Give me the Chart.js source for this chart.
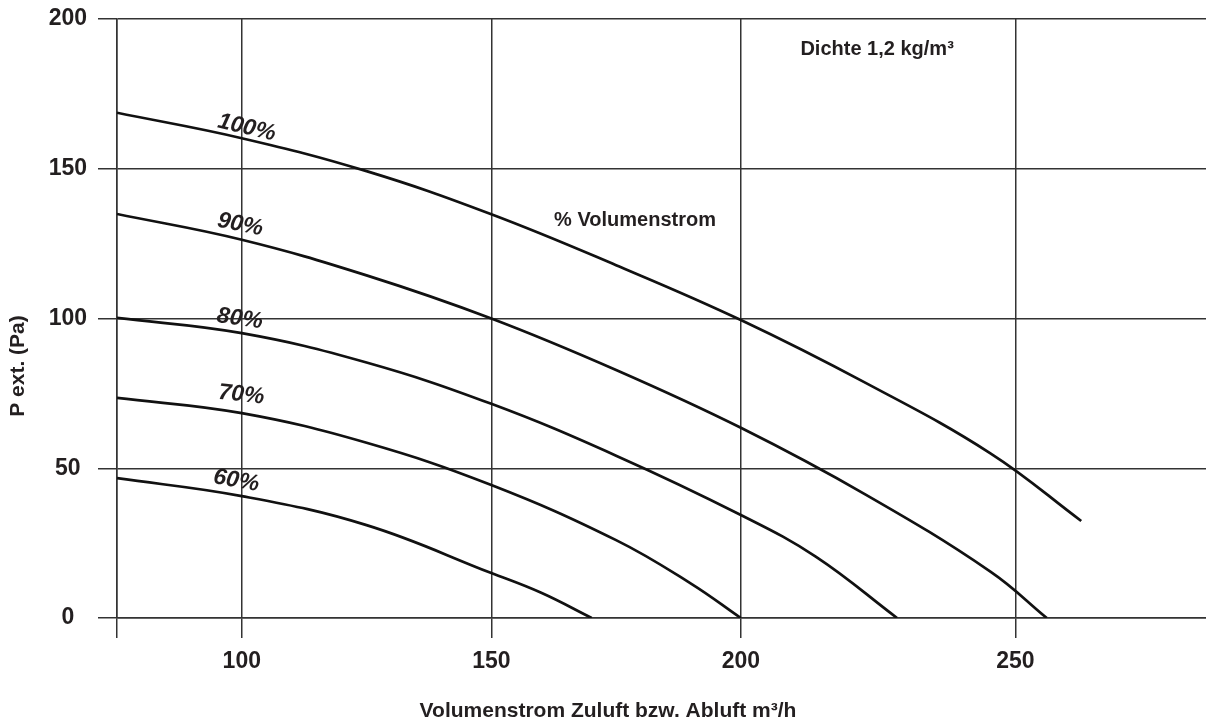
<!DOCTYPE html>
<html>
<head>
<meta charset="utf-8">
<script src="https://cdn.jsdelivr.net/npm/chart.js@4"></script>
<style>
  body { margin: 0; background: #fff; }
  canvas { display: block; }
</style>
</head>
<body>
<canvas id="fanCurveChart" width="1206" height="726"></canvas>
<script>
// fan curves: external pressure vs. air flow, one per speed step
const flow100 = [75, 100, 125, 150, 175, 200, 225, 250, 268.2];
const pressure100 = [168.7, 160.2, 149.2, 134.8, 117.8, 99.5, 78.5, 55, 32.4];

const flow90 = [75, 100, 125, 150, 175, 200, 225, 250, 261.3];
const pressure90 = [134.9, 126.3, 114.4, 100, 82.8, 63.5, 41.2, 15.5, 0];

const flow80 = [75, 100, 125, 150, 175, 200, 215, 231.3];
const pressure80 = [100.2, 95.1, 85.3, 71.5, 54.2, 34.4, 20.5, 0];

const flow70 = [75, 100, 125, 150, 175, 190, 200];
const pressure70 = [73.5, 68.4, 58.5, 44.4, 26, 11.5, 0];

const flow60 = [75, 100, 125, 150, 160, 170.1];
const pressure60 = [46.7, 40.7, 31, 15, 8.4, 0];

// axis ticks (the printed grid puts the "250" line a little right of a uniform step)
const xTickValues = [75, 100, 150, 200, 255];
const xTickLabels = ['', '100', '150', '200', '250'];
const yTickValues = [0, 50, 100, 150, 200];

// labels written on the curves
const curveLabels = ['100%', '90%', '80%', '70%', '60%'];
const labelFlow = [101, 99.7, 99.6, 99.9, 98.9];
const labelPressure = [163.7, 131.3, 99.9, 74.5, 45.8];
const labelAngle = [13, 11, 8, 6, 10];

const ink = '#231f20';
const gridColor = '#333';
const font = "'Liberation Sans', Arial, sans-serif";

function toPoints(xs, ys) {
  return xs.map((x, i) => ({ x: x, y: ys[i] }));
}

function curve(label, xs, ys) {
  return {
    label: label,
    data: toPoints(xs, ys),
    borderColor: '#111',
    borderWidth: 2.7,
    pointRadius: 0,
    fill: false,
    tension: 0.4
  };
}

const textPlugin = {
  id: 'chartText',
  afterDatasetsDraw(chart) {
    const c = chart.ctx;
    const xs = chart.scales.x;
    const ys = chart.scales.y;
    c.save();
    c.fillStyle = ink;

    // curve percentages
    c.font = 'italic bold 23px ' + font;
    c.textAlign = 'center';
    c.textBaseline = 'middle';
    curveLabels.forEach((t, i) => {
      c.save();
      c.translate(xs.getPixelForValue(labelFlow[i]), ys.getPixelForValue(labelPressure[i]));
      c.rotate(labelAngle[i] * Math.PI / 180);
      c.fillText(t, 0, 0);
      c.restore();
    });

    // notes inside the plot
    c.font = 'bold 20px ' + font;
    c.fillText('% Volumenstrom', xs.getPixelForValue(178.8), ys.getPixelForValue(132.6));
    c.fillText('Dichte 1,2 kg/m³', xs.getPixelForValue(227.3), ys.getPixelForValue(189.7));

    // axis titles, centred on the page
    c.font = 'bold 21px ' + font;
    c.fillText('Volumenstrom Zuluft bzw. Abluft m³/h', chart.width / 2 + 5, chart.height - 15);
    c.save();
    c.translate(18, chart.height / 2 + 3);
    c.rotate(-Math.PI / 2);
    c.fillText('P ext. (Pa)', 0, 0);
    c.restore();

    c.restore();
  }
};

const ctx = document.getElementById('fanCurveChart').getContext('2d');

const fanCurveChart = new Chart(ctx, {
  type: 'line',
  data: {
    datasets: [
      curve('100%', flow100, pressure100),
      curve('90%', flow90, pressure90),
      curve('80%', flow80, pressure80),
      curve('70%', flow70, pressure70),
      curve('60%', flow60, pressure60)
    ]
  },
  options: {
    responsive: false,
    animation: false,
    layout: { padding: { top: 19, right: 0, bottom: 0, left: 0 } },
    plugins: {
      legend: { display: false },
      tooltip: { enabled: false }
    },
    scales: {
      x: {
        type: 'linear',
        min: 75,
        max: 293.2,
        afterBuildTicks: (scale) => {
          scale.ticks = xTickValues.map(v => ({ value: v }));
        },
        afterFit: (scale) => { scale.height = 108; },
        grid: { color: gridColor, lineWidth: 1.5, tickLength: 20 },
        border: { color: gridColor, width: 1.5 },
        ticks: {
          color: ink,
          font: { family: font, size: 23, weight: 'bold' },
          padding: 10,
          maxRotation: 0,
          autoSkip: false,
          callback: (v) => xTickLabels[xTickValues.indexOf(v)]
        }
      },
      y: {
        min: 0,
        max: 200,
        afterBuildTicks: (scale) => {
          scale.ticks = yTickValues.map(v => ({ value: v }));
        },
        afterFit: (scale) => {
          scale.width = 117;
          scale.paddingTop = 0;
          scale.paddingBottom = 0;
        },
        grid: { color: gridColor, lineWidth: 1.5, tickLength: 19 },
        border: { color: gridColor, width: 1.5 },
        ticks: {
          color: ink,
          font: { family: font, size: 23, weight: 'bold' },
          padding: 11,
          crossAlign: 'center'
        }
      }
    }
  },
  plugins: [textPlugin]
});
</script>
</body>
</html>
